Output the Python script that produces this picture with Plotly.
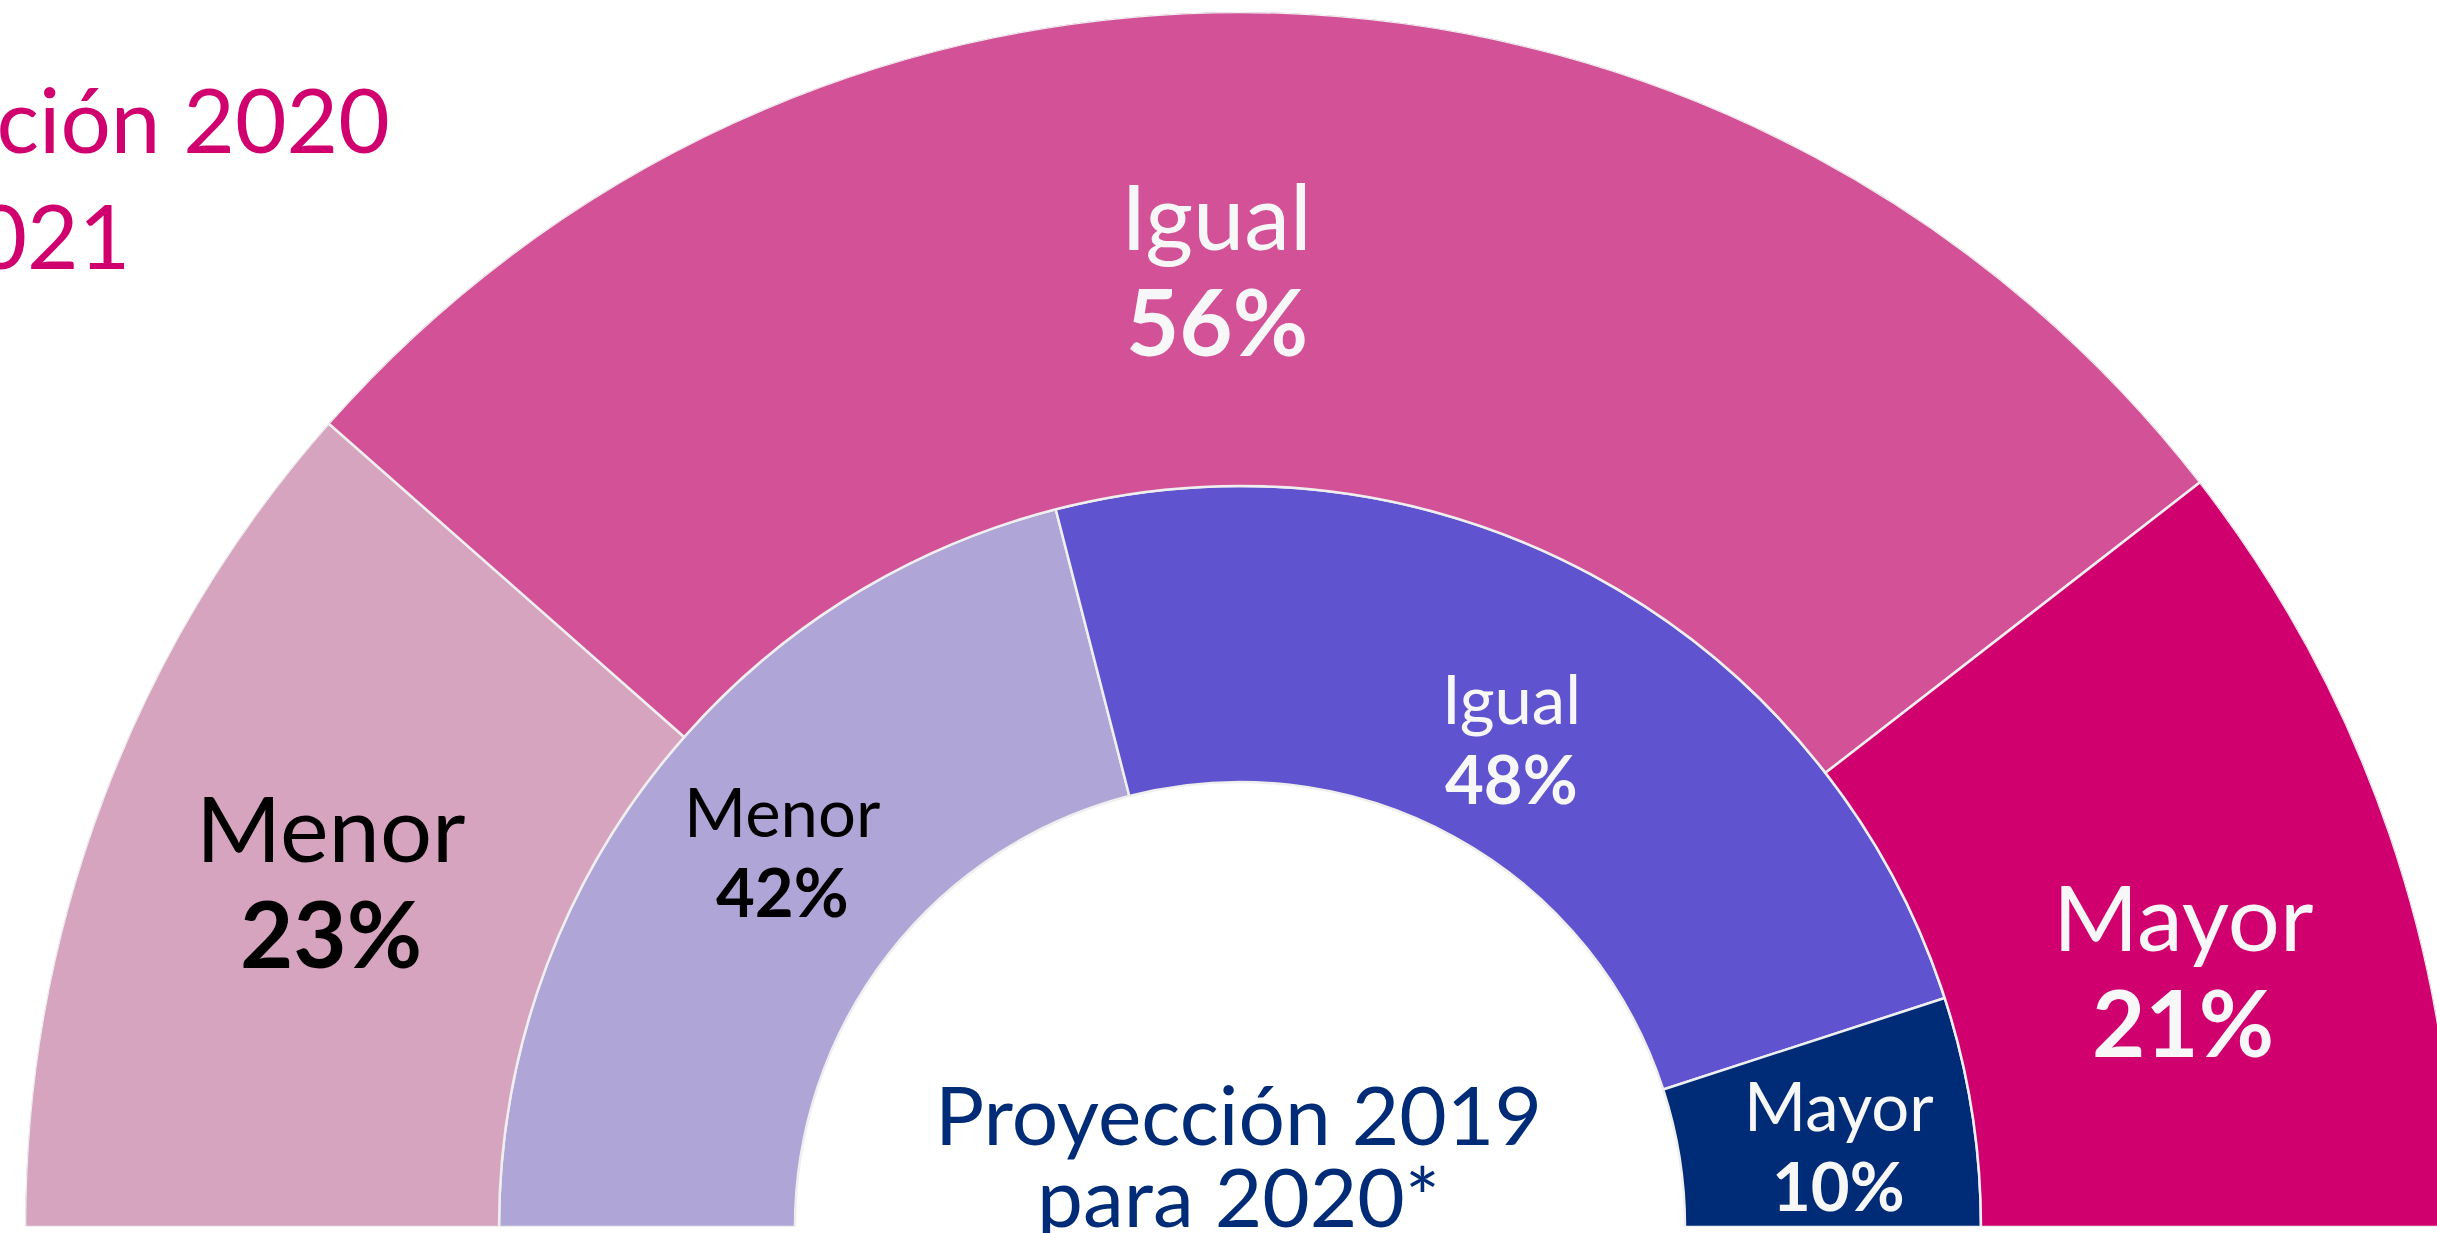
import numpy as np
import plotly.graph_objects as go

# ---------------- data ----------------
categories = ["Menor", "Igual", "Mayor"]
proy_2019_para_2020 = [42, 48, 10]   # inner ring
proy_2020_para_2021 = [23, 56, 21]   # outer ring
inner_title = ["Proyección 2019", "para 2020*"]
outer_title = "Proyección 2020<br>para 2021"

# ---------------- styles ----------------
colors_inner = ["#AFA5D6", "#6053CF", "#002C77"]
colors_outer = ["#D6A4BF", "#D35297", "#D0006F"]
text_inner = ["#000000", "#F7F7F7", "#F7F7F7"]
text_outer = ["#000000", "#F7F7F7", "#F7F7F7"]
FONT = "Lato"

# canvas / geometry (pixels)
W, H = 2480, 1233
CX, CY = 1240, 1227
R_OUT, R_MID, R_HOLE = 1215, 741, 445

# small label nudges (px, screen coords) to match reference placement
nudge_inner = [(11, -13), (-14, 31), (13, 11)]
nudge_outer = [(6, -2), (-54, 18), (18, 58)]


def ring_geometry(values):
    v = np.array(values, dtype=float)
    widths = v / v.sum() * 180.0
    starts = np.concatenate([[0], np.cumsum(widths)[:-1]])
    mids = starts + widths / 2
    return mids, widths


fig = go.Figure()

rings = [
    (proy_2019_para_2020, colors_inner, R_HOLE, R_MID),
    (proy_2020_para_2021, colors_outer, R_MID, R_OUT),
]
for vals, cols, r0, r1 in rings:
    mids, widths = ring_geometry(vals)
    fig.add_trace(go.Barpolar(
        theta=mids,
        width=widths,
        base=[r0] * len(vals),
        r=[r1 - r0] * len(vals),
        marker=dict(color=cols, line=dict(color="#EFEFEF", width=2.5)),
        text=categories,
        hoverinfo="text",
        showlegend=False,
    ))


def to_paper(x, y):
    return x / W, 1 - y / H


annotations = []
label_sets = [
    (proy_2019_para_2020, text_inner, nudge_inner, (R_HOLE + R_MID) / 2, 67, 40),
    (proy_2020_para_2021, text_outer, nudge_outer, (R_MID + R_OUT) / 2, 92, 53),
]
for vals, tcols, nudges, rm, fs, half in label_sets:
    mids, _ = ring_geometry(vals)
    for cat, val, mid, tc, (dx, dy) in zip(categories, vals, mids, tcols, nudges):
        phi = np.deg2rad(180 - mid)
        x = CX + rm * np.cos(phi) + dx
        y = CY - rm * np.sin(phi) + dy
        px, py = to_paper(x, y - half)
        annotations.append(dict(x=px, y=py, xref="paper", yref="paper",
                                text=cat, showarrow=False,
                                xanchor="center", yanchor="middle",
                                font=dict(family=FONT, size=fs, color=tc)))
        px, py = to_paper(x, y + half)
        annotations.append(dict(x=px, y=py, xref="paper", yref="paper",
                                text=f"<b>{val}%</b>", showarrow=False,
                                xanchor="center", yanchor="middle",
                                font=dict(family=FONT, size=fs, color=tc)))

# centre title (inner ring)
for line, yc in zip(inner_title, [1113, 1195]):
    px, py = to_paper(1238, yc)
    annotations.append(dict(x=px, y=py, xref="paper", yref="paper",
                            text=line, showarrow=False,
                            xanchor="center", yanchor="middle",
                            font=dict(family=FONT, size=82, color="#002C77")))

# top-left title (outer ring), partly cut off by the page edge
px, py = to_paper(392, 176)
annotations.append(dict(x=px, y=py, xref="paper", yref="paper",
                        text=outer_title, showarrow=False, align="left",
                        xanchor="right", yanchor="middle",
                        font=dict(family=FONT, size=89, color="#D0006F")))

fig.update_layout(
    width=W, height=H,
    margin=dict(l=0, r=0, t=0, b=0),
    paper_bgcolor="white",
    plot_bgcolor="white",
    polar=dict(
        domain=dict(x=[(CX - R_OUT) / W, (CX + R_OUT) / W],
                    y=[(H - CY) / H, (H - CY + R_OUT) / H]),
        sector=[0, 180],
        hole=0,
        bargap=0,
        bgcolor="rgba(0,0,0,0)",
        angularaxis=dict(rotation=180, direction="clockwise", visible=False,
                         showgrid=False, showline=False, ticks=""),
        radialaxis=dict(range=[0, R_OUT], visible=False, showgrid=False,
                        showline=False, ticks=""),
    ),
    annotations=annotations,
)

fig.write_html(
    "out.html",
    config={"displayModeBar": False},
    post_script=("document.documentElement.style.overflow='hidden';"
                 "document.body.style.margin='0';"
                 "document.body.style.overflow='hidden';"),
)
